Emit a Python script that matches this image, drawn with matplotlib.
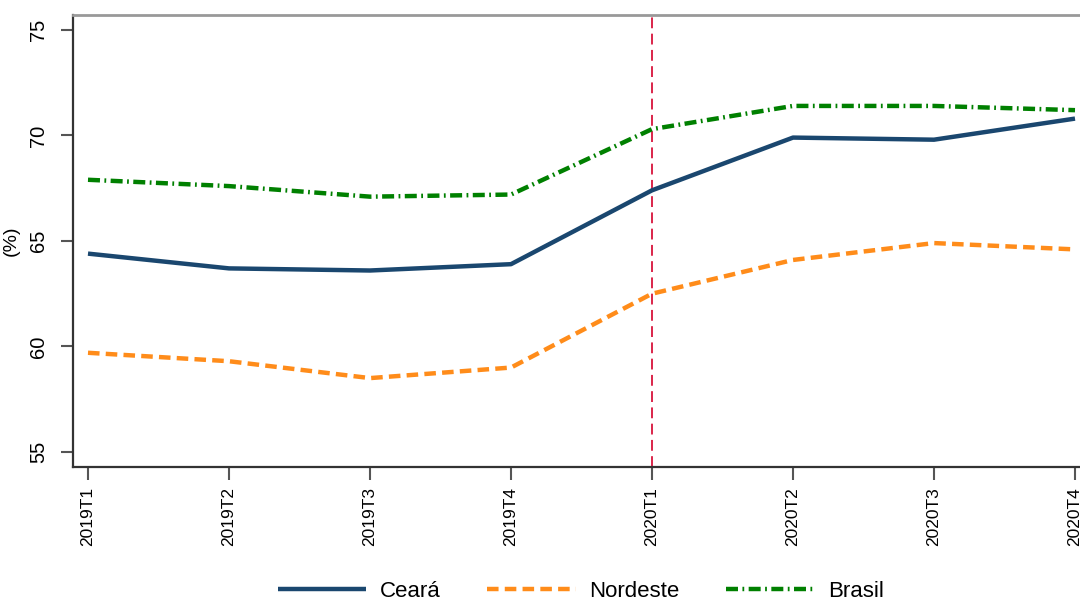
import numpy as np, matplotlib
matplotlib.use("Agg"); import matplotlib.pyplot as plt
plt.rcParams.update({"font.family": ["Liberation Sans", "DejaVu Sans"]})

periodos = ["2019T1", "2019T2", "2019T3", "2019T4", "2020T1", "2020T2", "2020T3", "2020T4"]
ceara = [64.4, 63.7, 63.6, 63.9, 67.4, 69.9, 69.8, 70.8]
nordeste = [59.7, 59.3, 58.5, 59.0, 62.5, 64.1, 64.9, 64.6]
brasil = [67.9, 67.6, 67.1, 67.2, 70.3, 71.4, 71.4, 71.2]
y_ticks = [55, 60, 65, 70, 75]
marco = "2020T1"

C_CE, C_NE, C_BR = "#1a476f", "#ff8c1a", "#008000"
fig = plt.figure(figsize=(10.8, 6.01), dpi=100)
ax = fig.add_axes([73/1080, 1-466.5/601, 1-73/1080, (466.5-15)/601])
x = np.arange(len(periodos))
ax.plot(x, ceara, color=C_CE, lw=3.2, solid_capstyle="butt", label="Ceará")
ax.plot(x, nordeste, color=C_NE, lw=3.2, dashes=(2.6, 1.4), label="Nordeste")
ax.plot(x, brasil, color=C_BR, lw=3.2, dashes=(2.7, 1.0, 0.4, 1.0), label="Brasil")
ax.axvline(periodos.index(marco), color="#d8143c", lw=1.3, dashes=(6, 3), zorder=1)

ax.set_xlim(-15/141.1, 7+5/141.1)
ax.set_ylim(54.31, 75.71)
ax.set_xticks(x); ax.set_xticklabels(periodos, rotation=90, fontsize=12.5)
ax.set_yticks(y_ticks)
ax.set_yticklabels([str(v) for v in y_ticks], rotation=90, va="center", fontsize=14.5)
ax.tick_params(axis="x", length=9, width=1.5, color="#555555", pad=6)
ax.tick_params(axis="y", length=9, width=1.5, color="#555555", pad=9)
ax.set_ylabel("(%)", fontsize=14)
ax.yaxis.set_label_coords(-53/1007, 0.5)
for s in ["left", "bottom"]:
    ax.spines[s].set_color("#333333"); ax.spines[s].set_linewidth(1.6)
ax.spines["top"].set_color("#999999"); ax.spines["top"].set_linewidth(2)
ax.spines["right"].set_visible(False)

fig.legend(loc="lower center", bbox_to_anchor=(0.538, -0.035), ncol=3, frameon=False,
           fontsize=16, handlelength=4, handletextpad=0.6, columnspacing=2.1)
fig.savefig("out.png", dpi=100, facecolor="white")
